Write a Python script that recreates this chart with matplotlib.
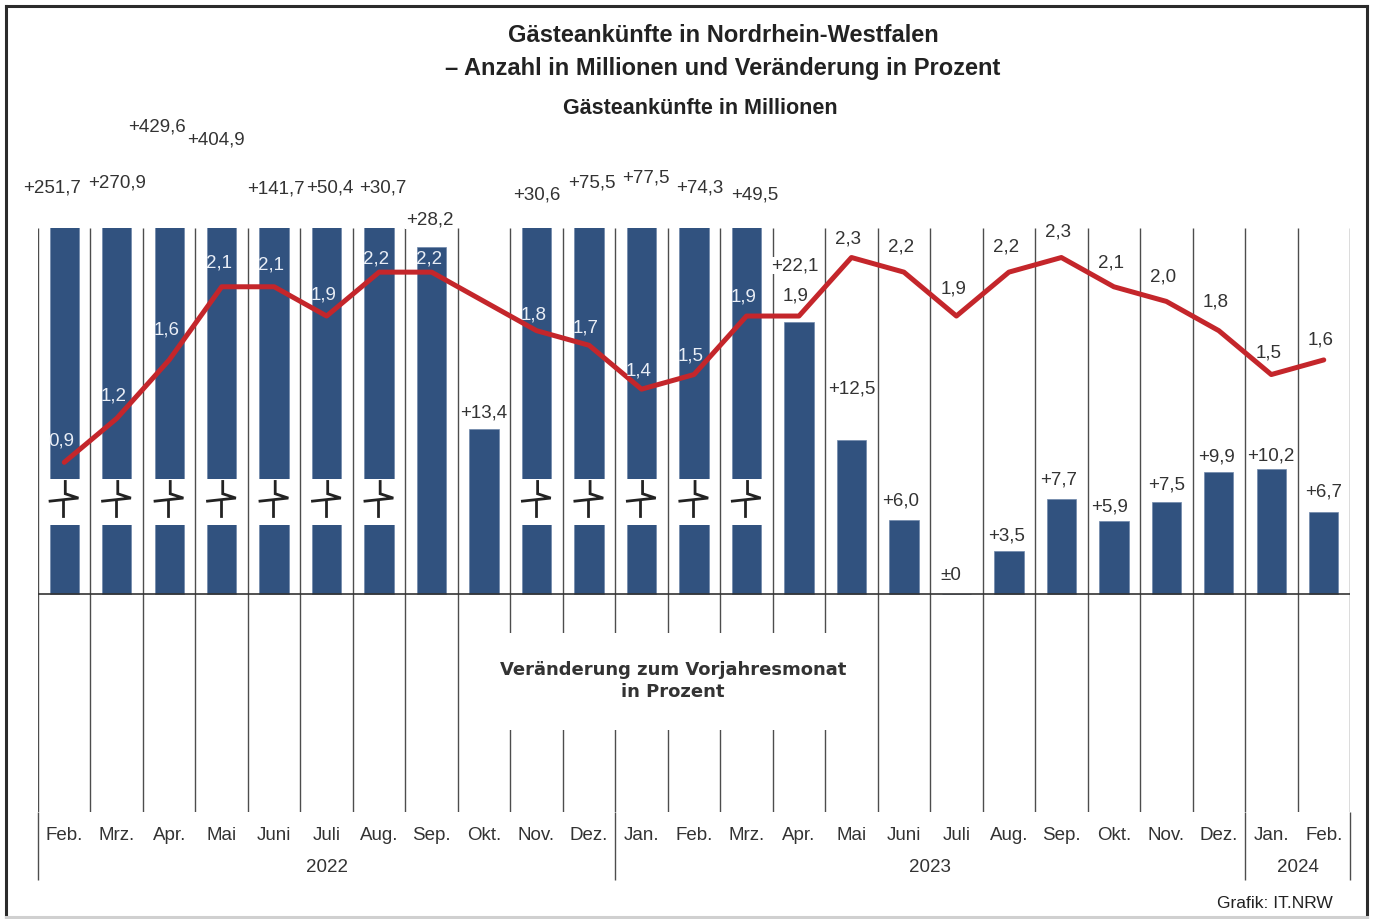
import matplotlib
matplotlib.use("Agg")
import matplotlib.pyplot as plt
from matplotlib.patches import Rectangle
from matplotlib.lines import Line2D
import numpy as np

# data
months = ["Feb.", "Mrz.", "Apr.", "Mai", "Juni", "Juli", "Aug.", "Sep.", "Okt.", "Nov.", "Dez.",
          "Jan.", "Feb.", "Mrz.", "Apr.", "Mai", "Juni", "Juli", "Aug.", "Sep.", "Okt.", "Nov.", "Dez.",
          "Jan.", "Feb."]
years = ["2022", "2023", "2024"]
months_per_year = [11, 12, 2]
# Gästeankünfte in Millionen
arrivals = [0.9, 1.2, 1.6, 2.1, 2.1, 1.9, 2.2, 2.2, 2.0, 1.8, 1.7,
            1.4, 1.5, 1.9, 1.9, 2.3, 2.2, 1.9, 2.2, 2.3, 2.1, 2.0, 1.8,
            1.5, 1.6]
arrivals_labelled = [True] * 8 + [False] + [True] * 16
# Veränderung zum Vorjahresmonat in Prozent
change = [251.7, 270.9, 429.6, 404.9, 141.7, 50.4, 30.7, 28.2, 13.4, 30.6, 75.5,
          77.5, 74.3, 49.5, 22.1, 12.5, 6.0, 0.0, 3.5, 7.7, 5.9, 7.5, 9.9,
          10.2, 6.7]


def fmt_pct(v):
    if v == 0:
        return "\u00b10"
    return "+" + f"{v:.1f}".replace(".", ",")


def fmt_mio(v):
    return f"{v:.1f}".replace(".", ",")


plt.rcParams['font.family'] = ['Liberation Sans', 'DejaVu Sans']

W, H = 1373, 919
fx = lambda p: p / W
fy = lambda p: 1 - p / H

fig = plt.figure(figsize=(W / 100, H / 100), dpi=100)

# pixel scale of both value axes (they share the zero line)
PX_PCT = 12.3
PX_MIO = 146.3
base_px, top_px, bot_px = 594, 228, 812
ylo = -(bot_px - base_px) / PX_PCT
yhi = (base_px - top_px) / PX_PCT

rect = [fx(38), fy(bot_px), (1350 - 38) / W, (bot_px - top_px) / H]
ax = fig.add_axes(rect)
n = len(months)
x = np.arange(n)
ax.set_xlim(-0.5, n - 0.5)
ax.set_ylim(ylo, yhi)
ax.axis('off')

dark = '#333333'
bar_col = '#31527f'

ax.vlines(np.arange(n + 1) - 0.5, ylo, yhi, color='#4d4d4d', lw=1.0, zorder=1)
bounds = np.concatenate(([0], np.cumsum(months_per_year))) - 0.5
ax.vlines(bounds, ylo - (880 - bot_px) / PX_PCT, ylo, color='#4d4d4d', lw=1.0,
          clip_on=False, zorder=1)

ax.bar(x, change, width=0.56, color=bar_col, edgecolor='#6f88ab', linewidth=0.5, zorder=2)
ax.axhline(0, color=dark, lw=1.2, zorder=3)

# broken bars
broken = [v > yhi for v in change]
gap_lo, gap_hi = 5.6, 9.35
for i, b in enumerate(broken):
    if not b:
        continue
    ax.add_patch(Rectangle((i - 0.33, gap_lo), 0.66, gap_hi - gap_lo, fc='white', ec='none', zorder=2.5))
    ax.plot([i + 0.02, i + 0.02, i + 0.27, i - 0.27],
            [9.15, 8.15, 7.8, 7.55], color='#222222', lw=2.0, zorder=2.6,
            solid_joinstyle='miter')
    ax.plot([i - 0.02, i - 0.02], [7.6, 6.35], color='#222222', lw=2.0, zorder=2.6)

# percent labels (manual placement like the original)
pct_lab_y = [33.0, 33.4, 38.0, 36.9, 32.9, 33.0, 33.0, 30.4, 14.7, 32.4, 33.4,
             33.8, 33.0, 32.4, 26.7, 16.7, 7.6, 1.5, 4.7, 9.3, 7.1, 8.9, 11.1,
             11.2, 8.3]
pct_lab_dx = [-12, 0, -12, -6, 2, 3, 4, -2, 0, 0, 3,
              4, 6, 8, -4, 0, -3, -6, -2, -3, -4, 0, -2,
              0, 0]
slot_px = (1350 - 38) / n
for i, v in enumerate(change):
    ax.text(i + pct_lab_dx[i] / slot_px, pct_lab_y[i], fmt_pct(v), ha='center', va='center',
            fontsize=13.5, color=dark, zorder=4, clip_on=False,
            bbox=dict(fc='white', ec='none', pad=0.3))

# box for middle caption
ax.add_patch(Rectangle((8.2, -(730 - base_px) / PX_PCT), 6.6, (730 - 633) / PX_PCT,
                       fc='white', ec='none', zorder=1.5))

# month / year labels
tr = ax.get_xaxis_transform()
h_ax = bot_px - top_px
for i, m in enumerate(months):
    ax.text(i, (bot_px - 835) / h_ax, m, transform=tr, ha='center', va='center',
            fontsize=13.5, color=dark)
for k, yr in enumerate(years):
    ax.text((bounds[k] + bounds[k + 1]) / 2, (bot_px - 868) / h_ax, yr, transform=tr,
            ha='center', va='center', fontsize=13.5, color=dark)

# arrivals line
ax2 = fig.add_axes(rect, sharex=ax)
ax2.patch.set_alpha(0)
ax2.set_ylim(ylo * PX_PCT / PX_MIO, yhi * PX_PCT / PX_MIO)
ax2.axis('off')
ax2.plot(x, arrivals, color='#c4262b', lw=3.6, solid_capstyle='round',
         solid_joinstyle='round', zorder=5)

mio_lab_dy = [21, 22, 30, 24, 22, 21, 13, 13, 0, 16, 17,
              18, 19, 19, 20, 19, 25, 27, 25, 26, 24, 24, 29,
              22, 20]
for i, v in enumerate(arrivals):
    if not arrivals_labelled[i]:
        continue
    lab_px = v * PX_MIO + mio_lab_dy[i]
    bar_top_px = min(change[i], yhi) * PX_PCT
    col = '#e9eef6' if bar_top_px > lab_px + 6 else dark
    ax2.text(i - 3 / slot_px, lab_px / PX_MIO, fmt_mio(v), ha='center', va='center',
             fontsize=13.5, color=col, zorder=6)

# titles
fig.text(fx(723), fy(36), "Gästeankünfte in Nordrhein-Westfalen", ha='center', va='center',
         fontsize=17, fontweight='bold', color='#222222')
fig.text(fx(723), fy(68), "\u2013 Anzahl in Millionen und Veränderung in Prozent", ha='center',
         va='center', fontsize=17, fontweight='bold', color='#222222')
fig.text(fx(700), fy(108), "Gästeankünfte in Millionen", ha='center', va='center',
         fontsize=15.5, fontweight='bold', color='#222222')
fig.text(fx(673), fy(681), "Veränderung zum Vorjahresmonat\nin Prozent", ha='center',
         va='center', fontsize=13, fontweight='bold', family='DejaVu Sans', color=dark,
         linespacing=1.25, zorder=10)
fig.text(fx(1333), fy(903), "Grafik: IT.NRW", ha='right', va='center', fontsize=12.5,
         color='#222222')

# outer frame
frame = [((6, 6), (6, 917), '#2b2b2b'), ((6, 1367), (6, 6), '#2b2b2b'),
         ((1367, 1367), (6, 917), '#2b2b2b'), ((6, 1367), (917, 917), '#d0d0d0')]
for xs, ys, c in frame:
    fig.add_artist(Line2D([fx(xs[0]), fx(xs[1])], [fy(ys[0]), fy(ys[1])],
                          transform=fig.transFigure, color=c, lw=2.2))

fig.savefig('out.png', dpi=100)
